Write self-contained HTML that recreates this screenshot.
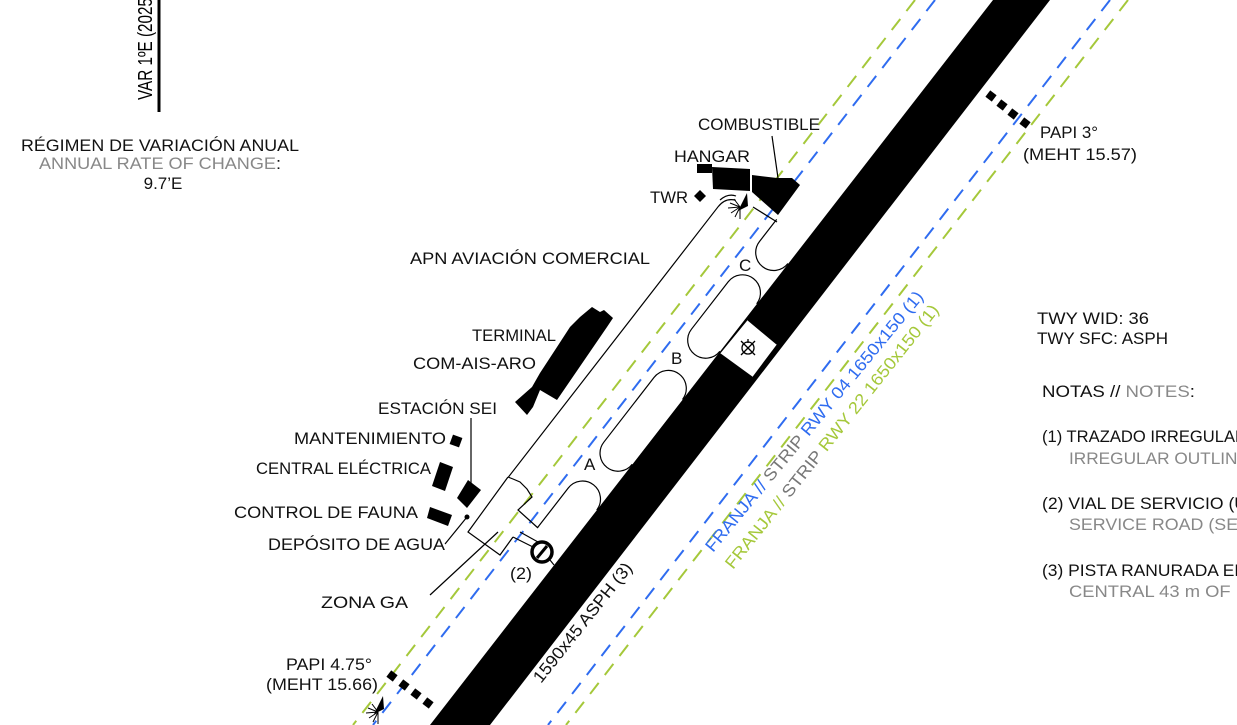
<!DOCTYPE html>
<html><head><meta charset="utf-8"><style>
html,body{margin:0;padding:0;background:#fff;overflow:hidden;}
svg{display:block;font-family:"Liberation Sans","DejaVu Sans",sans-serif;}
</style></head><body>
<svg width="1237" height="725" viewBox="0 0 1237 725" xmlns="http://www.w3.org/2000/svg">
<rect width="1237" height="725" fill="#fff"/>
<g stroke-width="2" fill="none" stroke-dasharray="14 10">
<line x1="915" y1="0" x2="353" y2="725" stroke="#a5c83a"/>
<line x1="935" y1="0" x2="373" y2="725" stroke="#2f6cf0"/>
<line x1="1110" y1="0" x2="548" y2="725" stroke="#2f6cf0"/>
<line x1="1128" y1="0" x2="566" y2="725" stroke="#a5c83a"/>
</g>
<polygon points="430,725 490,725 1050,0 993,0" fill="#000"/>
<polygon points="747,320 777,345 753,377 720,353" fill="#fff"/>
<line x1="747" y1="320" x2="720" y2="353" stroke="#000" stroke-width="1"/>
<line x1="777" y1="345" x2="753" y2="377" stroke="#000" stroke-width="1"/>
<g stroke="#000" stroke-width="1.3" fill="none"><circle cx="748" cy="348" r="6"/><line x1="741" y1="341" x2="755" y2="355"/><line x1="755" y1="341" x2="741" y2="355"/><line x1="748" y1="339" x2="748" y2="343"/></g>
<g transform="translate(430,725) rotate(-52.2)" stroke="#000" stroke-width="1.2" fill="#fff">
<path d="M473,0 A18,18 0 0 1 473,-36 L533,-36 A18,18 0 0 1 533,0" />
<path d="M330,0 A18,18 0 0 1 330,-36 L412,-36 A18,18 0 0 1 412,0" />
<path d="M222,-36 L272,-36 A18,18 0 0 1 272,0" fill="none"/>
<path d="M584,0 A18,18 0 0 1 584,-36 L612,-36" fill="none"/>
<path d="M244,-90 L586,-90 Q598,-90 602,-80" fill="none"/>
</g>
<g stroke="#000" stroke-width="1.2" fill="none">
<path d="M720,200 Q728,193 736,196"/>
<line x1="777" y1="222" x2="753" y2="207"/>
<path d="M508,477 L513,479 L520,482 L527,489 L532,497 L518,510 L538,528"/>
<path d="M508,477 L468,532 L500,555 L513,537"/>
<line x1="513" y1="537" x2="533" y2="547"/>
<line x1="520" y1="532" x2="538" y2="542"/>
<line x1="550" y1="560" x2="554" y2="565"/>
<line x1="430" y1="595" x2="498" y2="532"/>
<line x1="445" y1="544" x2="467" y2="517"/>
<line x1="471" y1="418" x2="471" y2="483"/>
<line x1="772" y1="136" x2="778" y2="178"/>
</g>
<circle cx="467" cy="517" r="2.5" fill="#000"/>
<circle cx="542" cy="552" r="10" fill="#fff" stroke="#000" stroke-width="3.5"/>
<line x1="537" y1="558" x2="547" y2="546" stroke="#000" stroke-width="3"/>
<g fill="#000">
<polygon points="592,307 600,312 604,310 613,318 607,327 557,400 540,390 533,407 527,415 515,402 532,387 540,373 557,347 570,327 580,317"/>
<polygon points="468,480 481,490 467,508 457,498"/>
<rect x="451" y="436" width="10" height="10" transform="rotate(20 456 441)"/>
<polygon points="440,462 453,467 445,491 432,486"/>
<polygon points="430,507 452,515 448,526 427,518"/>
<polygon points="700,190 706,196 700,202 694,196"/>
<rect x="697" y="164" width="15" height="9"/>
<polygon points="712,167 750,169 750,191 713,189"/>
<polygon points="752,175 777,178 792,178 800,185 778,215 752,192"/>
<polygon points="747,193 738,211 748,206"/>
<polygon points="383,696 374,714 384,709"/>
<rect x="987" y="92" width="8" height="8" transform="rotate(37 991 96)"/>
<rect x="998" y="101" width="8" height="8" transform="rotate(37 1002 105)"/>
<rect x="1009" y="110" width="8" height="8" transform="rotate(37 1013 114)"/>
<rect x="1021" y="119" width="8" height="8" transform="rotate(37 1025 123)"/>
<rect x="388" y="672" width="8" height="8" transform="rotate(37 392 676)"/>
<rect x="400" y="681" width="8" height="8" transform="rotate(37 404 685)"/>
<rect x="412" y="690" width="8" height="8" transform="rotate(37 416 694)"/>
<rect x="424" y="699" width="8" height="8" transform="rotate(37 428 703)"/>
</g>
<g stroke="#000" stroke-width="1">
<line x1="740" y1="207" x2="728" y2="208"/><line x1="740" y1="207" x2="730" y2="203"/><line x1="740" y1="207" x2="731" y2="213"/><line x1="740" y1="207" x2="735" y2="217"/><line x1="740" y1="207" x2="740" y2="219"/><line x1="740" y1="207" x2="734" y2="199"/>
<line x1="378" y1="712" x2="366" y2="713"/><line x1="378" y1="712" x2="368" y2="708"/><line x1="378" y1="712" x2="369" y2="718"/><line x1="378" y1="712" x2="373" y2="722"/><line x1="378" y1="712" x2="378" y2="724"/><line x1="378" y1="712" x2="372" y2="704"/>
</g>
<line x1="159" y1="0" x2="159" y2="112" stroke="#000" stroke-width="3"/>
<text transform="translate(152,100) rotate(-90)" font-size="20" textLength="102" lengthAdjust="spacingAndGlyphs" fill="#000">VAR 1ºE (2025</text>
<g font-size="17" fill="#111">
<text x="160" y="151" text-anchor="middle" textLength="278" lengthAdjust="spacingAndGlyphs">RÉGIMEN DE VARIACIÓN ANUAL</text>
<text x="160" y="169" text-anchor="middle" textLength="242" lengthAdjust="spacingAndGlyphs"><tspan fill="#888">ANNUAL RATE OF CHANGE</tspan>:</text>
<text x="163" y="189" text-anchor="middle">9.7’E</text>
<text x="698" y="130" textLength="122" lengthAdjust="spacingAndGlyphs">COMBUSTIBLE</text>
<text x="674" y="162" textLength="76" lengthAdjust="spacingAndGlyphs">HANGAR</text>
<text x="650" y="203" textLength="38" lengthAdjust="spacingAndGlyphs">TWR</text>
<text x="410" y="264" textLength="240" lengthAdjust="spacingAndGlyphs">APN AVIACIÓN COMERCIAL</text>
<text x="472" y="341" textLength="84" lengthAdjust="spacingAndGlyphs">TERMINAL</text>
<text x="413" y="369" textLength="123" lengthAdjust="spacingAndGlyphs">COM-AIS-ARO</text>
<text x="378" y="414" textLength="119" lengthAdjust="spacingAndGlyphs">ESTACIÓN SEI</text>
<text x="294" y="444" textLength="152" lengthAdjust="spacingAndGlyphs">MANTENIMIENTO</text>
<text x="256" y="474" textLength="175" lengthAdjust="spacingAndGlyphs">CENTRAL ELÉCTRICA</text>
<text x="234" y="518" textLength="184" lengthAdjust="spacingAndGlyphs">CONTROL DE FAUNA</text>
<text x="268" y="550" textLength="177" lengthAdjust="spacingAndGlyphs">DEPÓSITO DE AGUA</text>
<text x="321" y="608" textLength="87" lengthAdjust="spacingAndGlyphs">ZONA GA</text>
<text x="510" y="579" textLength="22" lengthAdjust="spacingAndGlyphs">(2)</text>
<text x="286" y="670" textLength="86" lengthAdjust="spacingAndGlyphs">PAPI 4.75°</text>
<text x="266" y="690" textLength="112" lengthAdjust="spacingAndGlyphs">(MEHT 15.66)</text>
<text x="1040" y="138" textLength="58" lengthAdjust="spacingAndGlyphs">PAPI 3°</text>
<text x="1023" y="160" textLength="114" lengthAdjust="spacingAndGlyphs">(MEHT 15.57)</text>
<text x="739" y="271">C</text>
<text x="671" y="364">B</text>
<text x="584" y="470">A</text>
<text x="1037" y="324" textLength="112" lengthAdjust="spacingAndGlyphs">TWY WID: 36</text>
<text x="1037" y="344" textLength="131" lengthAdjust="spacingAndGlyphs">TWY SFC: ASPH</text>
<text x="1042" y="397" textLength="153" lengthAdjust="spacingAndGlyphs">NOTAS // <tspan fill="#888">NOTES</tspan>:</text>
<text x="1042" y="442" textLength="205" lengthAdjust="spacingAndGlyphs">(1) TRAZADO IRREGULAR</text>
<text x="1069" y="464" fill="#888" textLength="180" lengthAdjust="spacingAndGlyphs">IRREGULAR OUTLINE</text>
<text x="1042" y="509" textLength="205" lengthAdjust="spacingAndGlyphs">(2) VIAL DE SERVICIO (U</text>
<text x="1069" y="530" fill="#888" textLength="180" lengthAdjust="spacingAndGlyphs">SERVICE ROAD (SEI)</text>
<text x="1042" y="576" textLength="205" lengthAdjust="spacingAndGlyphs">(3) PISTA RANURADA EN</text>
<text x="1069" y="597" fill="#888" textLength="180" lengthAdjust="spacingAndGlyphs">CENTRAL 43 m OF R</text>
</g>
<g font-size="17">
<text transform="translate(713,553) rotate(-50.5)" textLength="332" lengthAdjust="spacingAndGlyphs" fill="#2f6cf0">FRANJA // <tspan fill="#777">STRIP</tspan> RWY 04 1650x150 (1)</text>
<text transform="translate(733,570) rotate(-51.5)" textLength="332" lengthAdjust="spacingAndGlyphs" fill="#a5c83a">FRANJA // <tspan fill="#777">STRIP</tspan> RWY 22 1650x150 (1)</text>
<text transform="translate(541,684) rotate(-51.5)" textLength="148" lengthAdjust="spacingAndGlyphs" fill="#111">1590x45 ASPH (3)</text>
</g>
</svg>
</body></html>
